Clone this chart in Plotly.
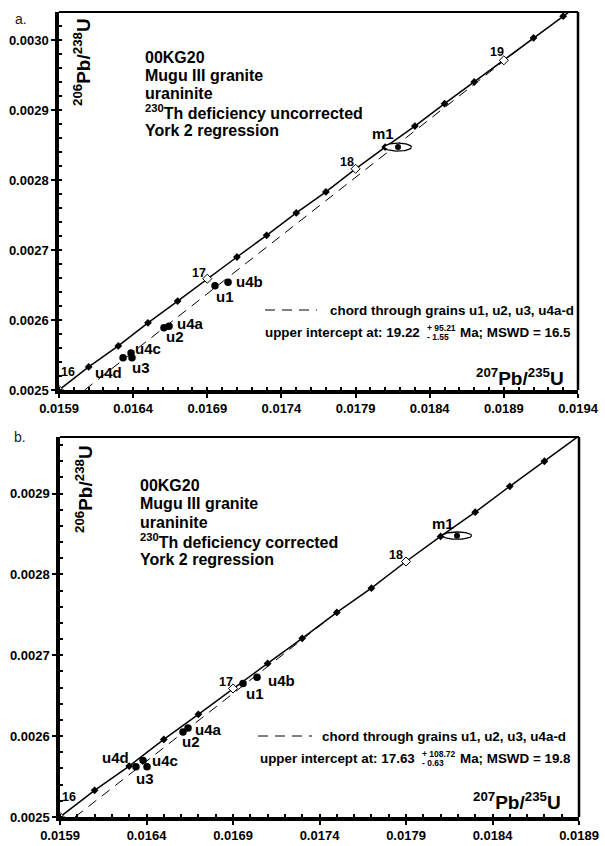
import numpy as np
import plotly.graph_objects as go

W, H = 605, 846
FONT = "Liberation Sans, Arial, Helvetica, sans-serif"

# ---------------- data ----------------
# Concordia age ticks (Ma) with 207Pb/235U and 206Pb/238U
conc_age = [16.0, 16.2, 16.4, 16.6, 16.8, 17.0, 17.2, 17.4, 17.6, 17.8,
            18.0, 18.2, 18.4, 18.6, 18.8, 19.0, 19.2, 19.4, 19.6]
conc_x = [0.01590, 0.01610, 0.01630, 0.01650, 0.01670, 0.01690, 0.01710, 0.01730,
          0.01750, 0.01770, 0.01790, 0.01810, 0.01830, 0.01850, 0.01870, 0.01890,
          0.01910, 0.01930, 0.01950]
conc_y = [0.002500, 0.002533, 0.002563, 0.002596, 0.002627, 0.002659, 0.002690,
          0.002721, 0.002753, 0.002783, 0.002816, 0.002847, 0.002877, 0.002909,
          0.002940, 0.002971, 0.003003, 0.003034, 0.003065]

grains = ["u1", "u2", "u3", "u4a", "u4b", "u4c", "u4d"]
# panel a: uncorrected
a_x = [0.016952, 0.016608, 0.016392, 0.016642, 0.017040, 0.016386, 0.016332]
a_y = [0.002649, 0.002589, 0.002546, 0.002591, 0.002654, 0.002553, 0.002546]
# panel b: corrected
b_x = [0.016958, 0.016611, 0.016403, 0.016640, 0.017039, 0.016380, 0.016339]
b_y = [0.002665, 0.002605, 0.002562, 0.002610, 0.002673, 0.002570, 0.002562]

# monazite m1 (centre, half-widths)
m1_a = dict(x=0.018186, y=0.002847, sx=0.000091, sy=0.0000057)
m1_b = dict(x=0.018195, y=0.002848, sx=0.000084, sy=0.0000045)

# discordia chords (lower point at axis, upper intercept)
chord_a_x = [0.016073, 0.019116]
chord_a_y = [0.002500, 0.003006]
chord_b_x = [0.015987, 0.017530]
chord_b_y = [0.002500, 0.002758]

xt_a = [0.0159, 0.0164, 0.0169, 0.0174, 0.0179, 0.0184, 0.0189, 0.0194]
xt_b = [0.0159, 0.0164, 0.0169, 0.0174, 0.0179, 0.0184, 0.0189]
yt_a = [0.0025, 0.0026, 0.0027, 0.0028, 0.0029, 0.0030]
yt_b = [0.0025, 0.0026, 0.0027, 0.0028, 0.0029]

title_lines_a = ["00KG20", "Mugu III granite", "uraninite",
                 "<sup>230</sup>Th deficiency uncorrected", "York 2 regression"]
title_lines_b = ["00KG20", "Mugu III granite", "uraninite",
                 "<sup>230</sup>Th deficiency corrected", "York 2 regression"]
chord_text = "chord through grains u1, u2, u3, u4a-d"
ui_a = ("19.22", "+ 95.21", "- 1.55", "16.5")
ui_b = ("17.63", "+ 108.72", "- 0.63", "19.8")

# ---------------- layout geometry (pixels) ----------------
pan = {
    "a": dict(l=59, r=578, t=12, b=390, xr=[0.0159, 0.0194], yr=[0.0025, 0.00304]),
    "b": dict(l=60, r=579, t=437, b=817, xr=[0.0159, 0.0189], yr=[0.0025, 0.00297]),
}
# label offsets in pixels (dx right, dy up)
lab_off_a = {"u1": (10, -11), "u2": (11, -9), "u3": (9, -10), "u4a": (21, 3),
             "u4b": (21, 1), "u4c": (17, 4), "u4d": (-15, -15), "m1": (-15, 14)}
lab_off_b = {"u1": (12, -10), "u2": (8, -9), "u3": (-2, -12), "u4a": (20, -1),
             "u4b": (24, -3), "u4c": (22, 0), "u4d": (-20, 9), "m1": (-14, 12)}
age_off_a = {16.0: (9, 18), 17.0: (-8, 6), 18.0: (-9, 7), 19.0: (-7, 8)}
age_off_b = {16.0: (9, 20), 17.0: (-7, 6), 18.0: (-10, 7)}

SMALL = 13.4


def px(x):
    return x / W


def py(y):
    return 1 - y / H


fig = go.Figure()
annotations = []
shapes = []


def ellipse(c, n=80):
    t = np.linspace(0, 2 * np.pi, n)
    return c["x"] + c["sx"] * np.cos(t), c["y"] + c["sy"] * np.sin(t)


def txt(x, y, text, size, xanchor="center", bold=True, color="black", angle=0):
    return dict(x=px(x), y=py(y), xref="paper", yref="paper",
                text=f"<b>{text}</b>" if bold else text, showarrow=False,
                xanchor=xanchor, yanchor="middle", textangle=angle,
                font=dict(family=FONT, size=size, color=color))


def panel(key, xa, ya, gx, gy, m1, chx, chy, lab_off, age_off,
          tlines, ui, lab_letter, tblock, ytitle, xtitle, legend, ui_pos):
    p = pan[key]
    xmax, ymax = p["xr"][1], p["yr"][1]
    fig.add_trace(go.Scatter(x=conc_x, y=conc_y, mode="lines", xaxis=xa, yaxis=ya,
                             line=dict(color="black", width=1.5), hoverinfo="skip"))
    fig.add_trace(go.Scatter(x=chx, y=chy, mode="lines", xaxis=xa, yaxis=ya,
                             line=dict(color="black", width=1, dash="10px,7px"),
                             hoverinfo="skip"))
    inside = [i for i in range(len(conc_age))
              if conc_x[i] <= xmax + 1e-9 and conc_y[i] <= ymax + 1e-9
              and not (key == "b" and conc_age[i] >= 19.0)]
    filled = [i for i in inside if abs(conc_age[i] - round(conc_age[i])) > 1e-6]
    openi = [i for i in inside if abs(conc_age[i] - round(conc_age[i])) < 1e-6]
    fig.add_trace(go.Scatter(x=[conc_x[i] for i in filled], y=[conc_y[i] for i in filled],
                             mode="markers", xaxis=xa, yaxis=ya, hoverinfo="skip",
                             marker=dict(symbol="diamond", size=6, color="black")))
    ex, ey = ellipse(m1)
    fig.add_trace(go.Scatter(x=ex, y=ey, mode="lines", fill="toself", fillcolor="white",
                             xaxis=xa, yaxis=ya, line=dict(color="black", width=1.3),
                             hoverinfo="skip"))
    fig.add_trace(go.Scatter(x=[m1["x"]], y=[m1["y"]], mode="markers", xaxis=xa, yaxis=ya,
                             marker=dict(symbol="circle", size=6, color="black"),
                             hoverinfo="skip"))
    fig.add_trace(go.Scatter(x=[conc_x[i] for i in openi], y=[conc_y[i] for i in openi],
                             mode="markers", xaxis=xa, yaxis=ya, hoverinfo="skip",
                             cliponaxis=False,
                             marker=dict(symbol="diamond", size=7, color="white",
                                         line=dict(color="black", width=1))))
    fig.add_trace(go.Scatter(x=gx, y=gy, mode="markers", xaxis=xa, yaxis=ya,
                             hoverinfo="skip",
                             marker=dict(symbol="circle", size=7.5, color="black")))
    for g, x, y in zip(grains, gx, gy):
        dx, dy = lab_off[g]
        annotations.append(dict(x=x, y=y, xref=xa, yref=ya, text=f"<b>{g}</b>",
                                showarrow=False, xshift=dx, yshift=dy,
                                font=dict(family=FONT, size=15, color="black")))
    annotations.append(dict(x=m1["x"], y=m1["y"], xref=xa, yref=ya, text="<b>m1</b>",
                            showarrow=False, xshift=lab_off["m1"][0], yshift=lab_off["m1"][1],
                            font=dict(family=FONT, size=15, color="black")))
    for i in openi:
        a = conc_age[i]
        if a in age_off:
            dx, dy = age_off[a]
            annotations.append(dict(x=conc_x[i], y=conc_y[i], xref=xa, yref=ya,
                                    text=f"<b>{int(a)}</b>", showarrow=False,
                                    xshift=dx, yshift=dy,
                                    font=dict(family=FONT, size=12.5, color="black")))
    x0, y0, dyl = tblock
    for k, line in enumerate(tlines):
        annotations.append(txt(x0, y0 + k * dyl, line, 16, xanchor="left"))
    annotations.append(txt(ytitle[0], ytitle[1], "<sup>206</sup>Pb/<sup>238</sup>U", 19,
                           angle=-90))
    annotations.append(txt(xtitle[0], xtitle[1], "<sup>207</sup>Pb/<sup>235</sup>U", 19,
                           xanchor="right"))
    lx0, lx1, ly, tx = legend
    shapes.append(dict(type="line", xref="paper", yref="paper", x0=px(lx0), x1=px(lx1),
                       y0=py(ly), y1=py(ly),
                       line=dict(color="black", width=1, dash="10px,7px")))
    annotations.append(txt(tx, ly, chord_text, SMALL, xanchor="left"))
    main_r, sup_l, uy, right = ui_pos
    annotations.append(txt(main_r, uy, f"upper intercept at: {ui[0]}", SMALL, xanchor="right"))
    annotations.append(txt(sup_l, uy - 4.5, ui[1], 8.5, xanchor="left"))
    annotations.append(txt(sup_l, uy + 5, ui[2], 8.5, xanchor="left"))
    annotations.append(txt(right, uy, f"Ma; MSWD = {ui[3]}", SMALL, xanchor="right"))
    annotations.append(txt(lab_letter[0], lab_letter[1], key + ".", 14, xanchor="left",
                           bold=False, color="#222"))
    shapes.append(dict(type="line", xref="paper", yref="paper", x0=px(p["l"]), x1=px(p["r"]),
                       y0=py(p["t"]), y1=py(p["t"]), line=dict(color="black", width=2.2)))
    shapes.append(dict(type="line", xref="paper", yref="paper", x0=px(p["r"]), x1=px(p["r"]),
                       y0=py(p["t"]), y1=py(p["b"]), line=dict(color="black", width=2.5)))


panel("a", "x", "y", a_x, a_y, m1_a, chord_a_x, chord_a_y, lab_off_a, age_off_a,
      title_lines_a, ui_a, (13, 19), (143, 57, 18.3), (82, 62), (566, 377),
      (265, 317, 310, 328), (422, 425, 332, 573))
panel("b", "x2", "y2", b_x, b_y, m1_b, chord_b_x, chord_b_y, lab_off_b, age_off_b,
      title_lines_b, ui_b, (12, 437), (138, 485, 18.7), (84, 489), (563, 801),
      (258, 312, 736, 320), (417, 420, 758, 573))


def xaxis(key, xt, anchor):
    p = pan[key]
    return dict(domain=[px(p["l"]), px(p["r"])], range=p["xr"], tickvals=xt,
                ticktext=[f"{v:.4f}" for v in xt], showline=True, linewidth=3.5,
                linecolor="black", ticks="outside", ticklen=4, tickwidth=2,
                tickcolor="black", showgrid=False, zeroline=False, anchor=anchor,
                automargin=False,
                tickfont=dict(family=FONT, size=13, color="black", weight="bold"),
                minor=dict(dtick=0.0001, tick0=0.0159, ticks="inside", ticklen=3,
                           tickwidth=2, tickcolor="black", showgrid=False),
                fixedrange=True)


def yaxis(key, yt, anchor):
    p = pan[key]
    return dict(domain=[py(p["b"]), py(p["t"])], range=p["yr"], tickvals=yt,
                ticktext=[f"{v:.4f}" for v in yt], showline=True, linewidth=3.5,
                linecolor="black", ticks="outside", ticklen=4, tickwidth=2,
                tickcolor="black", showgrid=False, zeroline=False, anchor=anchor,
                automargin=False,
                tickfont=dict(family=FONT, size=13, color="black", weight="bold"),
                minor=dict(dtick=0.00002, tick0=0.0025, ticks="inside", ticklen=3,
                           tickwidth=2, tickcolor="black", showgrid=False),
                fixedrange=True)


fig.update_layout(
    width=W, height=H, margin=dict(l=0, r=0, t=0, b=0, autoexpand=False),
    paper_bgcolor="white", plot_bgcolor="white", showlegend=False,
    xaxis=xaxis("a", xt_a, "y"),
    yaxis=yaxis("a", yt_a, "x"),
    xaxis2=xaxis("b", xt_b, "y2"),
    yaxis2=yaxis("b", yt_b, "x2"),
    annotations=annotations, shapes=shapes,
)

fig.write_html("out.html", config={"displayModeBar": False},
               post_script="document.body.style.margin='0px';"
                           "document.body.style.padding='0px';"
                           "document.body.style.overflow='hidden';")
